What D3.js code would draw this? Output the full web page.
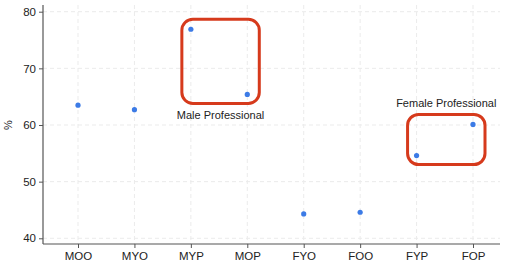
<!DOCTYPE html>
<html>
<head>
<meta charset="utf-8">
<script src="https://cdn.jsdelivr.net/npm/d3@7"></script>
<style>
  body { margin: 0; background: #fff; }
  text { font-family: "Liberation Sans", Arial, sans-serif; }
</style>
</head>
<body>
<script>
// categories and values
var groups = ["MOO", "MYO", "MYP", "MOP", "FYO", "FOO", "FYP", "FOP"];
var values = [63.5, 62.7, 76.9, 65.4, 44.3, 44.6, 54.6, 60.1];
var yTicks = [40, 50, 60, 70, 80];

// highlighted groups
var boxes = [
  {label: "Male Professional", from: "MYP", to: "MOP", labelPos: "below"},
  {label: "Female Professional", from: "FYP", to: "FOP", labelPos: "above"}
];

var width = 505, height = 270;
var margin = {top: 5, right: 5, bottom: 26, left: 43};

var x = d3.scalePoint().domain(groups)
    .range([78, 473]);
var y = d3.scaleLinear().domain([40, 80]).range([238.3, 11.7]);

var svg = d3.select("body").append("svg")
    .attr("width", width)
    .attr("height", height);

// grid
svg.append("g").selectAll("line").data(yTicks).enter().append("line")
    .attr("x1", margin.left).attr("x2", width - margin.right)
    .attr("y1", function(d) { return y(d); }).attr("y2", function(d) { return y(d); })
    .attr("stroke", "#ebebeb").attr("stroke-dasharray", "4,3");
svg.append("g").selectAll("line").data(groups).enter().append("line")
    .attr("x1", function(d) { return x(d); }).attr("x2", function(d) { return x(d); })
    .attr("y1", margin.top).attr("y2", height - margin.bottom)
    .attr("stroke", "#ebebeb").attr("stroke-dasharray", "4,3");

// axes
var yAxis = svg.append("g")
    .attr("transform", "translate(" + margin.left + ",0)")
    .call(d3.axisLeft(y).tickValues(yTicks).tickSize(4).tickPadding(3));
yAxis.select(".domain").attr("d", "M0," + margin.top + "V" + (height - margin.bottom));

var xAxis = svg.append("g")
    .attr("transform", "translate(0," + (height - margin.bottom) + ")")
    .call(d3.axisBottom(x).tickSize(4).tickPadding(4));
xAxis.select(".domain").attr("d", "M" + margin.left + ",0H" + (width - margin.right));

svg.selectAll(".domain").attr("stroke", "#555").attr("stroke-width", 1.2);
svg.selectAll(".tick line").attr("stroke", "#555");
svg.selectAll(".tick text").attr("fill", "#222").style("font-size", "11.5px");

// y label
svg.append("text")
    .attr("transform", "translate(12," + y(60) + ") rotate(-90)")
    .attr("text-anchor", "middle")
    .style("font-size", "11px")
    .attr("fill", "#222")
    .text("%");

// points
svg.append("g").selectAll("circle").data(groups).enter().append("circle")
    .attr("cx", function(d) { return x(d); })
    .attr("cy", function(d, i) { return y(values[i]); })
    .attr("r", 2.6)
    .attr("fill", "#3c7be6");

// highlight boxes
boxes.forEach(function(b) {
  var i0 = groups.indexOf(b.from), i1 = groups.indexOf(b.to);
  var vs = [values[i0], values[i1]];
  var x0 = x(b.from) - 9, x1 = x(b.to) + 12;
  var y0 = y(d3.max(vs)) - 10, y1 = y(d3.min(vs)) + 9;
  svg.append("rect")
      .attr("x", x0).attr("y", y0)
      .attr("width", x1 - x0).attr("height", y1 - y0)
      .attr("rx", 11).attr("ry", 11)
      .attr("fill", "none")
      .attr("stroke", "#d63a1c")
      .attr("stroke-width", 3);
  svg.append("text")
      .attr("x", (x0 + x1) / 2)
      .attr("y", b.labelPos == "below" ? y1 + 16 : y0 - 7)
      .attr("text-anchor", "middle")
      .style("font-size", "11px")
      .attr("fill", "#222")
      .text(b.label);
});
</script>
</body>
</html>
